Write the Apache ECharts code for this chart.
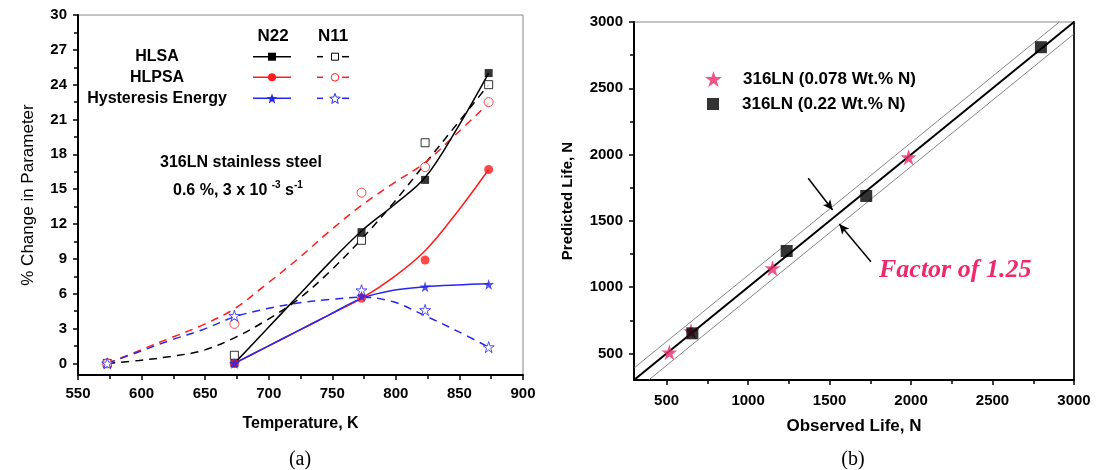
<!DOCTYPE html>
<html><head><meta charset="utf-8">
<script src="https://cdn.jsdelivr.net/npm/echarts@6/dist/echarts.min.js"></script>
<style>html,body{margin:0;padding:0;background:#fff}#c{width:1101px;height:470px}</style>
</head><body><div id="c"></div>
<script>
// ---------- Data: chart (a) ----------
const tempsN11 = [573, 673, 773, 823, 873];
const tempsN22 = [673, 773, 823, 873];
const hlsaN22 = [0, 11.3, 15.8, 25.0];
const hlsaN11 = [0, 0.7, 10.6, 19.0, 24.0];
const hlpsaN22 = [0, 5.6, 8.9, 16.7];
const hlpsaN11 = [0, 3.4, 14.7, 16.9, 22.5];
const hystN22 = [0, 5.8, 6.6, 6.8];
const hystN11 = [0, 4.1, 6.3, 4.6, 1.4];
// fitted curves
const fitTempsN11 = [573, 598, 623, 648, 673, 698, 723, 748, 773, 798, 823, 848, 873];
const fitTempsN22 = [673, 698, 723, 748, 773, 798, 823, 848, 873];
const hlsaN11Fit = [0, 0.25, 0.6, 1.1, 2.2, 3.7, 5.5, 7.9, 10.7, 13.8, 17.2, 20.6, 24.0];
const hlpsaN11Fit = [0, 1.1, 2.2, 3.3, 4.7, 6.8, 9.0, 11.4, 13.6, 15.5, 17.3, 19.8, 22.4];
const hystN11Fit = [0, 1.0, 2.0, 2.9, 4.0, 4.7, 5.2, 5.5, 5.7, 5.3, 4.1, 2.8, 1.4];
const hlsaN22Fit = [0, 2.9, 5.8, 8.7, 11.4, 13.6, 16.0, 20.2, 25.0];
const hlpsaN22Fit = [0, 1.4, 2.8, 4.2, 5.6, 7.4, 9.7, 13.0, 16.7];
const hystN22Fit = [0, 1.4, 2.8, 4.2, 5.6, 6.3, 6.6, 6.75, 6.85];
const yTicksA = [0, 3, 6, 9, 12, 15, 18, 21, 24, 27, 30];
const yMinorA = [1.5, 4.5, 7.5, 10.5, 13.5, 16.5, 19.5, 22.5, 25.5, 28.5];

// ---------- Data: chart (b) ----------
const obsLow = [517, 650, 1150, 1985];     // 316LN (0.078 Wt.% N)
const predLow = [509, 668, 1143, 1980];
const obsHigh = [658, 1237, 1725, 2797];   // 316LN (0.22 Wt.% N)
const predHigh = [652, 1273, 1688, 2810];
const unityLine = [[300, 300], [3000, 3000]];
const upperBand = [[300, 390], [2910, 3000]];
const lowerBand = [[390, 300], [3000, 2910]];
const ticksB = [500, 1000, 1500, 2000, 2500, 3000];
const minorB = [750, 1250, 1750, 2250, 2750];

const pairs = (xs, ys) => xs.map((x, i) => [x, ys[i]]);

const FONT = '"Liberation Sans", Arial, sans-serif';
const SERIF = '"Liberation Serif", "Times New Roman", serif';
const RED = '#ff1c1c', BLUE = '#2626f2', PINK = '#ee2a6a';
const STAR = 'path://M50,0L61.2,34.5L97.6,34.5L68.2,55.9L79.4,90.5L50,69.1L20.6,90.5L31.8,55.9L2.4,34.5L38.8,34.5Z';
const DASH = [8, 6];

function starPts(cx, cy, R) {
  const pts = [];
  for (let k = 0; k < 10; k++) {
    const a = (-90 + 36 * k) * Math.PI / 180;
    const rr = k % 2 ? R * 0.42 : R;
    pts.push([cx + rr * Math.cos(a), cy + rr * Math.sin(a) + R * 0.12]);
  }
  return pts;
}

const chart = echarts.init(document.getElementById('c'), null, {renderer: 'canvas'});

const axisLbl = {color: '#000', fontFamily: FONT, fontWeight: 'bold', fontSize: 15};
const plain = v => String(v);
const tick = {show: true, inside: false, length: 5, lineStyle: {color: '#000', width: 1.5}};

function curve(name, xs, ys, color, dashed) {
  return {name, type: 'line', xAxisIndex: 0, yAxisIndex: 0, data: pairs(xs, ys), smooth: 0.35,
    showSymbol: false, symbol: 'none', silent: true,
    lineStyle: {color, width: 1.5, type: dashed ? DASH : 'solid'}, z: 3};
}
function marks(name, xs, ys, symbol, size, color, open) {
  return {name, type: 'scatter', xAxisIndex: 0, yAxisIndex: 0, data: pairs(xs, ys), symbol, symbolSize: size,
    itemStyle: open ? {color: '#fff', borderColor: color, borderWidth: 1} : {color}, z: 5};
}

const headY = 36, rows = [56.7, 77.3, 98.3];
const rowNames = ['HLSA', 'HLPSA', 'Hysteresis Energy'];
const rowColors = ['#000', RED, BLUE];
const gEls = [];
gEls.push({type: 'text', x: 273, y: headY, style: {text: 'N22', font: 'bold 17px ' + FONT, fill: '#000', align: 'center', verticalAlign: 'middle'}});
gEls.push({type: 'text', x: 333, y: headY, style: {text: 'N11', font: 'bold 17px ' + FONT, fill: '#000', align: 'center', verticalAlign: 'middle'}});
rows.forEach((y, i) => {
  const c = rowColors[i];
  gEls.push({type: 'text', x: 157, y, style: {text: rowNames[i], font: 'bold 16px ' + FONT, fill: '#000', align: 'center', verticalAlign: 'middle'}});
  gEls.push({type: 'line', shape: {x1: 253, y1: y, x2: 291, y2: y}, style: {stroke: c, lineWidth: 1.5}});
  gEls.push({type: 'line', shape: {x1: 317, y1: y, x2: 323, y2: y}, style: {stroke: c, lineWidth: 1.5}});
  gEls.push({type: 'line', shape: {x1: 342, y1: y, x2: 349, y2: y}, style: {stroke: c, lineWidth: 1.5}});
  if (i === 0) {
    gEls.push({type: 'rect', shape: {x: 268, y: y - 4, width: 8, height: 8}, style: {fill: c}, z: 10});
    gEls.push({type: 'rect', shape: {x: 331.5, y: y - 3.5, width: 7, height: 7}, style: {fill: '#fff', stroke: c, lineWidth: 1}, z: 10});
  } else if (i === 1) {
    gEls.push({type: 'circle', shape: {cx: 272, cy: y, r: 4}, style: {fill: c}, z: 10});
    gEls.push({type: 'circle', shape: {cx: 335, cy: y, r: 3.8}, style: {fill: '#fff', stroke: c, lineWidth: 1}, z: 10});
  } else {
    gEls.push({type: 'polygon', shape: {points: starPts(272, y, 5.5)}, style: {fill: c}, z: 10});
    gEls.push({type: 'polygon', shape: {points: starPts(335, y, 5.5)}, style: {fill: '#fff', stroke: c, lineWidth: 1}, z: 10});
  }
});
gEls.push({type: 'text', x: 241, y: 163, style: {text: '316LN stainless steel', font: 'bold 16px ' + FONT, fill: '#000', align: 'center', verticalAlign: 'middle'}});
gEls.push({type: 'text', x: 173, y: 191, style: {
  text: '{n|0.6 %, 3 x 10 }{s|-3}{n| s}{s|-1}', verticalAlign: 'middle', align: 'left',
  rich: {n: {fontFamily: FONT, fontWeight: 'bold', fontSize: 16, fill: '#000'},
         s: {fontFamily: FONT, fontWeight: 'bold', fontSize: 10, fill: '#000', padding: [0, 0, 12, 0]}}}});
gEls.push({type: 'text', x: 300, y: 460, style: {text: '(a)', font: '20px ' + SERIF, fill: '#000', align: 'center', verticalAlign: 'middle'}});
gEls.push({type: 'text', x: 853, y: 460, style: {text: '(b)', font: '20px ' + SERIF, fill: '#000', align: 'center', verticalAlign: 'middle'}});
gEls.push({type: 'text', x: 879, y: 270, style: {text: 'Factor of 1.25', font: 'italic bold 26px ' + SERIF, fill: PINK, align: 'left', verticalAlign: 'middle'}});

const option = {
  animation: false,
  backgroundColor: '#fff',
  grid: [
    {left: 78, top: 15, width: 445, height: 360, show: true, borderColor: '#888', borderWidth: 1, backgroundColor: 'transparent'},
    {left: 634, top: 22, width: 440, height: 358, show: true, borderColor: '#888', borderWidth: 1, backgroundColor: 'transparent'}
  ],
  xAxis: [
    {type: 'value', gridIndex: 0, position: 'bottom', min: 550, max: 900, interval: 50, name: 'Temperature, K', nameLocation: 'middle', nameGap: 41,
     nameTextStyle: {fontFamily: FONT, fontWeight: 'bold', fontSize: 16, color: '#000'},
     axisLine: {show: true, onZero: false, lineStyle: {color: '#000', width: 2}},
     axisTick: tick, minorTick: {show: true, splitNumber: 2, length: 4, lineStyle: {color: '#000', width: 1.5}},
     axisLabel: Object.assign({margin: 11, formatter: plain}, axisLbl), splitLine: {show: false}, minorSplitLine: {show: false}},
    {type: 'value', gridIndex: 1, position: 'bottom', min: 300, max: 3000, name: 'Observed Life, N', nameLocation: 'middle', nameGap: 38,
     nameTextStyle: {fontFamily: FONT, fontWeight: 'bold', fontSize: 17, color: '#000'},
     axisLine: {show: true, onZero: false, lineStyle: {color: '#000', width: 2}},
     axisTick: Object.assign({customValues: ticksB}, tick),
     axisLabel: Object.assign({margin: 13, customValues: ticksB, formatter: plain}, axisLbl), splitLine: {show: false}},
    {type: 'value', gridIndex: 1, position: 'bottom', min: 300, max: 3000, axisLine: {show: false, onZero: false},
     axisTick: {show: true, inside: false, customValues: minorB, length: 4, lineStyle: {color: '#000', width: 1.5}},
     axisLabel: {show: false}, splitLine: {show: false}}
  ],
  yAxis: [
    {type: 'value', gridIndex: 0, position: 'left', min: -1, max: 30, name: '% Change in Parameter', nameLocation: 'middle', nameGap: 41, nameRotate: 90,
     nameTextStyle: {fontFamily: FONT, fontSize: 17, color: '#000'},
     axisLine: {show: true, onZero: false, lineStyle: {color: '#000', width: 2}},
     axisTick: Object.assign({customValues: yTicksA}, tick),
     axisLabel: Object.assign({margin: 11, customValues: yTicksA, formatter: plain}, axisLbl), splitLine: {show: false}},
    {type: 'value', gridIndex: 0, position: 'left', min: -1, max: 30, axisLine: {show: false, onZero: false},
     axisTick: {show: true, inside: false, customValues: yMinorA, length: 4, lineStyle: {color: '#000', width: 1.5}},
     axisLabel: {show: false}, splitLine: {show: false}},
    {type: 'value', gridIndex: 1, position: 'left', min: 300, max: 3000, name: 'Predicted Life, N', nameLocation: 'middle', nameGap: 59, nameRotate: 90,
     nameTextStyle: {fontFamily: FONT, fontWeight: 'bold', fontSize: 15, color: '#000'},
     axisLine: {show: true, onZero: false, lineStyle: {color: '#000', width: 2}},
     axisTick: Object.assign({customValues: ticksB}, tick),
     axisLabel: Object.assign({margin: 11, customValues: ticksB, formatter: plain}, axisLbl), splitLine: {show: false}},
    {type: 'value', gridIndex: 1, position: 'left', min: 300, max: 3000, axisLine: {show: false, onZero: false},
     axisTick: {show: true, inside: false, customValues: minorB, length: 4, lineStyle: {color: '#000', width: 1.5}},
     axisLabel: {show: false}, splitLine: {show: false}},
    {type: 'value', gridIndex: 1, position: 'right', min: 300, max: 3000,
     axisLine: {show: true, onZero: false, lineStyle: {color: '#222', width: 2}},
     axisTick: {show: false}, axisLabel: {show: false}, splitLine: {show: false}}
  ],
  legend: [
    {data: ['316LN (0.078 Wt.% N)'], left: 705, top: 70, padding: 0, itemWidth: 17, itemHeight: 17, orient: 'vertical',
     textStyle: {fontFamily: FONT, fontWeight: 'bold', fontSize: 17, color: '#000', padding: [0, 0, 0, 16], lineHeight: 18}},
    {data: ['316LN (0.22 Wt.% N)'], left: 707, top: 95, padding: 0, itemWidth: 12, itemHeight: 12, orient: 'vertical',
     textStyle: {fontFamily: FONT, fontWeight: 'bold', fontSize: 17, color: '#000', padding: [0, 0, 0, 18], lineHeight: 18}}
  ],
  graphic: {elements: gEls},
  series: [
    curve('HLSA N11 fit', fitTempsN11, hlsaN11Fit, '#000', true),
    curve('HLPSA N11 fit', fitTempsN11, hlpsaN11Fit, RED, true),
    curve('Hyst N11 fit', fitTempsN11, hystN11Fit, BLUE, true),
    curve('HLSA N22 fit', fitTempsN22, hlsaN22Fit, '#000', false),
    curve('HLPSA N22 fit', fitTempsN22, hlpsaN22Fit, RED, false),
    curve('Hyst N22 fit', fitTempsN22, hystN22Fit, BLUE, false),
    marks('HLSA N11', tempsN11, hlsaN11, 'rect', 8, '#000', true),
    marks('HLPSA N11', tempsN11, hlpsaN11, 'circle', 9, RED, true),
    marks('Hyst N11', tempsN11, hystN11, STAR, 11, BLUE, true),
    marks('HLSA N22', tempsN22, hlsaN22, 'rect', 8, '#000', false),
    marks('HLPSA N22', tempsN22, hlpsaN22, 'circle', 9, RED, false),
    marks('Hyst N22', tempsN22, hystN22, STAR, 11, BLUE, false),
    {name: 'upper', type: 'line', xAxisIndex: 1, yAxisIndex: 2, data: upperBand, symbol: 'none', silent: true,
     lineStyle: {color: '#666', width: 0.8}, z: 2},
    {name: 'lower', type: 'line', xAxisIndex: 1, yAxisIndex: 2, data: lowerBand, symbol: 'none', silent: true,
     lineStyle: {color: '#666', width: 0.8}, z: 2},
    {name: 'unity', type: 'line', xAxisIndex: 1, yAxisIndex: 2, data: unityLine, symbol: 'none', silent: true,
     lineStyle: {color: '#000', width: 2}, z: 2,
     markLine: {silent: true, symbol: ['none', 'arrow'], symbolSize: [7, 10], label: {show: false},
       lineStyle: {color: '#000', width: 1.5, type: 'solid'},
       data: [[{coord: [1369, 1821]}, {coord: [1519, 1582]}], [{coord: [1754, 1192]}, {coord: [1560, 1476]}]]}},
    {name: '316LN (0.078 Wt.% N)', type: 'scatter', xAxisIndex: 1, yAxisIndex: 2, data: pairs(obsLow, predLow),
     symbol: STAR, symbolSize: 16, itemStyle: {color: PINK}, z: 4},
    {name: '316LN (0.22 Wt.% N)', type: 'scatter', xAxisIndex: 1, yAxisIndex: 2, data: pairs(obsHigh, predHigh),
     symbol: 'rect', symbolSize: 12, itemStyle: {color: '#000'}, z: 5}
  ]
};
chart.setOption(option);
</script></body></html>
